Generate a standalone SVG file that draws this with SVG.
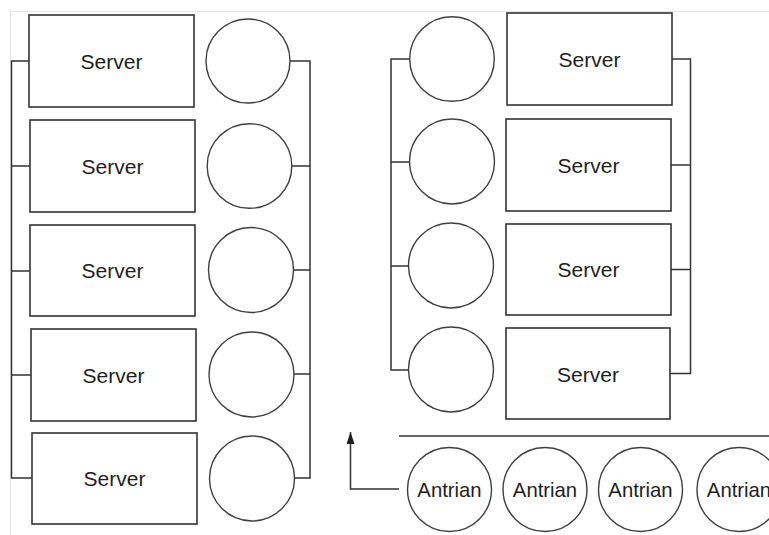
<svg xmlns="http://www.w3.org/2000/svg" width="769" height="535" viewBox="0 0 769 535">
  <style>
    .box { fill: #ffffff; stroke: #333333; stroke-width: 1.6; }
    .ring { fill: #ffffff; stroke: #3f3f3f; stroke-width: 1.4; }
    .wire { fill: none; stroke: #333333; stroke-width: 1.5; }
    .frame { fill: none; stroke: #e4e4e4; stroke-width: 1; }
    .lbl { font-family: "Liberation Sans", Arial, sans-serif; font-size: 21px; fill: #1e1e1e; text-anchor: middle; }
    .q { font-size: 20.3px; }
  </style>
  <defs>
    <marker id="tip" viewBox="0 0 12 8" refX="12" refY="4" markerWidth="12" markerHeight="8" markerUnits="userSpaceOnUse" orient="auto">
      <path d="M0 0 L12 4 L0 8 Z" fill="#1e1e1e"/>
    </marker>
  </defs>

  <rect width="769" height="535" fill="#ffffff"/>
  <!-- faint outer frame -->
  <path class="frame" d="M10.5 535 V11.5 H769"/>

  <!-- connectors -->
  <g id="connectors">
    <!-- left bank: server bus -->
    <path class="wire" d="M29 61 H11.5 V478 H32 M30 166 H11.5 M30 271 H11.5 M31 375 H11.5"/>
    <!-- left bank: circle bus -->
    <path class="wire" d="M290 61 H310 V478 H294.5 M291.5 166 H310 M293.5 270 H310 M294 374 H310"/>
    <!-- right bank: circle bus -->
    <path class="wire" d="M409.5 59 H391 V370 H408.5 M409.5 162 H391 M408.5 266 H391"/>
    <!-- right bank: server bus -->
    <path class="wire" d="M672 59 H690.5 V373.5 H670 M671 165 H690.5 M671 269.5 H690.5"/>
    <!-- queue separator -->
    <path class="wire" d="M399 436 H769"/>
    <!-- queue feedback arrow -->
    <path class="wire" d="M399 489 H350.5 V432" marker-end="url(#tip)"/>
  </g>

  <!-- left bank servers -->
  <g id="server-l1"><rect class="box" x="29" y="15" width="165" height="92"/><text class="lbl" x="111.5" y="68.5">Server</text></g>
  <g id="server-l2"><rect class="box" x="30" y="120" width="165" height="92"/><text class="lbl" x="112.5" y="173.5">Server</text></g>
  <g id="server-l3"><rect class="box" x="30" y="225" width="165" height="91"/><text class="lbl" x="112.5" y="277.5">Server</text></g>
  <g id="server-l4"><rect class="box" x="31" y="329" width="165" height="92"/><text class="lbl" x="113.5" y="382.5">Server</text></g>
  <g id="server-l5"><rect class="box" x="32" y="433" width="165" height="91"/><text class="lbl" x="114.5" y="485.5">Server</text></g>

  <!-- left bank circles -->
  <g id="circle-l1"><circle class="ring" cx="248" cy="61" r="42"/></g>
  <g id="circle-l2"><circle class="ring" cx="249.5" cy="166" r="42.3"/></g>
  <g id="circle-l3"><circle class="ring" cx="251" cy="270" r="42.5"/></g>
  <g id="circle-l4"><circle class="ring" cx="251.5" cy="374.5" r="42.5"/></g>
  <g id="circle-l5"><circle class="ring" cx="252" cy="478.5" r="42.5"/></g>

  <!-- right bank circles -->
  <g id="circle-r1"><circle class="ring" cx="452" cy="59" r="42.3"/></g>
  <g id="circle-r2"><circle class="ring" cx="452" cy="161.5" r="42.5"/></g>
  <g id="circle-r3"><circle class="ring" cx="451" cy="265.5" r="42.5"/></g>
  <g id="circle-r4"><circle class="ring" cx="451" cy="369.5" r="42.5"/></g>

  <!-- right bank servers -->
  <g id="server-r1"><rect class="box" x="507" y="13" width="165" height="92"/><text class="lbl" x="589.5" y="66.5">Server</text></g>
  <g id="server-r2"><rect class="box" x="506" y="119" width="165" height="92"/><text class="lbl" x="588.5" y="172.5">Server</text></g>
  <g id="server-r3"><rect class="box" x="506" y="224" width="165" height="91"/><text class="lbl" x="588.5" y="276.5">Server</text></g>
  <g id="server-r4"><rect class="box" x="506" y="328" width="164" height="91"/><text class="lbl" x="588" y="381.5">Server</text></g>

  <!-- queue -->
  <g id="queue-1"><circle class="ring" cx="449.5" cy="489.5" r="42"/><text class="lbl q" x="449.5" y="496.5">Antrian</text></g>
  <g id="queue-2"><circle class="ring" cx="545" cy="489.5" r="42"/><text class="lbl q" x="545" y="496.5">Antrian</text></g>
  <g id="queue-3"><circle class="ring" cx="640.5" cy="489.5" r="42"/><text class="lbl q" x="640.5" y="496.5">Antrian</text></g>
  <g id="queue-4"><circle class="ring" cx="739" cy="489.5" r="42"/><text class="lbl q" x="739" y="496.5">Antrian</text></g>
</svg>
